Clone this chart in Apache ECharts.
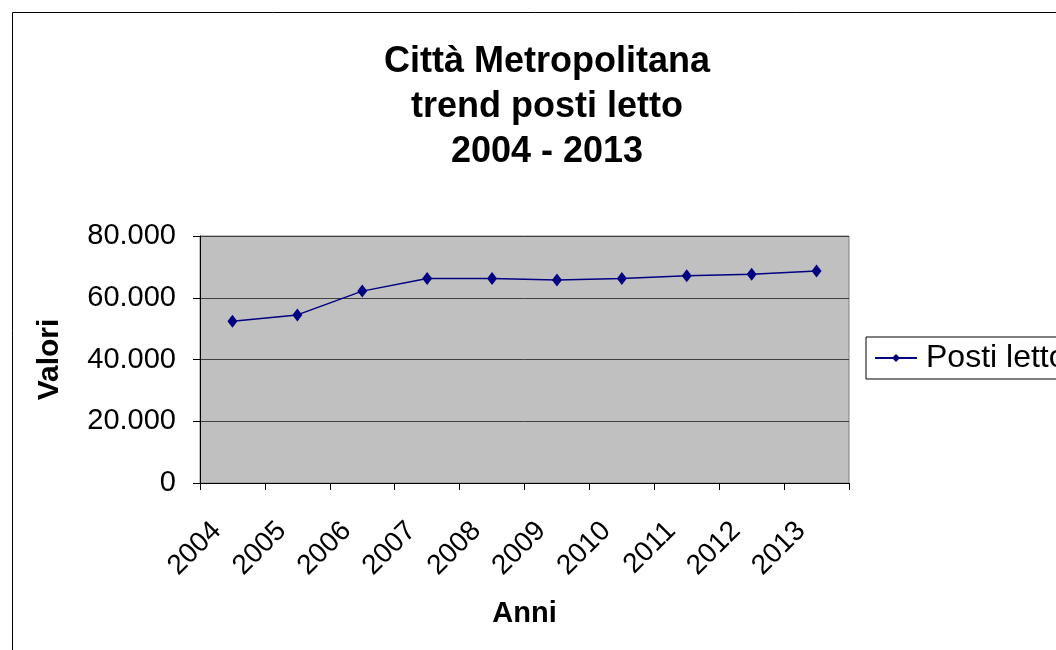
<!DOCTYPE html>
<html>
<head>
<meta charset="utf-8">
<script src="https://cdn.jsdelivr.net/npm/echarts@6/dist/echarts.min.js"></script>
<style>
html,body{margin:0;padding:0;background:#fff;}
#c{width:1056px;height:650px;}
</style>
</head>
<body>
<div id="c"></div>
<script>
const categories = ['2004','2005','2006','2007','2008','2009','2010','2011','2012','2013'];
const postiLetto = [52400, 54450, 62150, 66200, 66200, 65750, 66200, 67150, 67600, 68650];
const yTicks = [0, 20000, 40000, 60000, 80000];

function fmt(v){
  if (v === 0) return '0';
  const t = Math.floor(v/1000), r = v % 1000;
  return t + '.' + String(r).padStart(3,'0');
}

const chart = echarts.init(document.getElementById('c'), null, {renderer:'canvas'});
const FONT = '"Liberation Sans", Arial, sans-serif';
chart.setOption({
  animation:false,
  backgroundColor:'#fff',
  textStyle:{fontFamily:FONT},
  graphic:[{
    type:'rect', shape:{x:12.5,y:12.5,width:1100,height:700},
    style:{fill:'none',stroke:'#000',lineWidth:1}, silent:true, z:-1
  }],
  title:{
    text:'Città Metropolitana\ntrend posti letto\n2004 - 2013',
    left:542, top:35, textAlign:'center',
    textStyle:{fontFamily:FONT,fontSize:36,fontWeight:'bold',color:'#000',lineHeight:45}
  },
  legend:{
    data:['Posti letto'],
    left:866, top:337, orient:'vertical',
    padding:[5,10,5,8],
    borderColor:'#000', borderWidth:1, backgroundColor:'#fff',
    itemWidth:42, itemHeight:10, itemGap:6,
    textStyle:{fontFamily:FONT,fontSize:32,color:'#000',padding:[0,0,0,4]}
  },
  grid:{left:200, top:236, width:649, height:247, show:true, backgroundColor:'#C0C0C0', borderColor:'#808080', borderWidth:1},
  xAxis:{
    type:'category', data:categories, boundaryGap:true,
    name:'Anni', nameLocation:'middle', nameGap:116,
    nameTextStyle:{fontFamily:FONT,fontSize:29,fontWeight:'bold',color:'#000'},
    axisLine:{lineStyle:{color:'#000',width:1}},
    axisTick:{show:true,length:7,lineStyle:{color:'#000'}},
    axisLabel:{rotate:45,fontFamily:FONT,fontSize:28,color:'#000',margin:28,padding:[0,22,0,0]}
  },
  yAxis:{
    type:'value', min:0, max:80000, interval:20000,
    name:'Valori', nameLocation:'middle', nameGap:135, nameRotate:90,
    nameTextStyle:{fontFamily:FONT,fontSize:30,fontWeight:'bold',color:'#000'},
    axisLine:{show:true,lineStyle:{color:'#000',width:1}},
    axisTick:{show:true,length:7,lineStyle:{color:'#000'}},
    axisLabel:{fontFamily:FONT,fontSize:29,color:'#000',margin:24,formatter:fmt},
    splitLine:{show:true,lineStyle:{color:'#404040',width:1}}
  },
  series:[{
    name:'Posti letto', type:'line', data:postiLetto,
    symbol:'diamond', symbolSize:[10,13],
    lineStyle:{color:'#000080',width:1.5},
    itemStyle:{color:'#000080'}
  }]
});
</script>
</body>
</html>
